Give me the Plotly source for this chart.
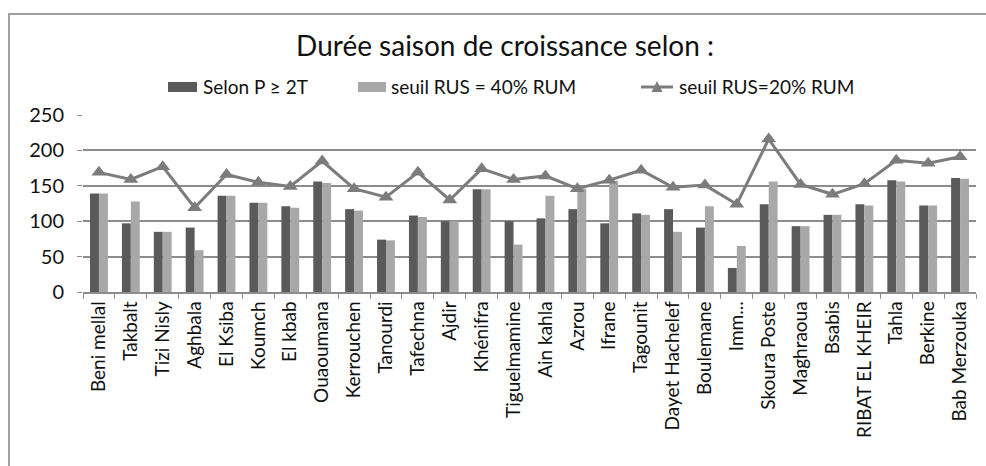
import plotly.graph_objects as go

stations = [
    "Beni mellal", "Takbalt", "Tizi Nisly", "Aghbala", "El Ksiba", "Koumch",
    "El kbab", "Ouaoumana", "Kerrouchen", "Tanourdi", "Tafechna", "Ajdir",
    "Khénifra", "Tiguelmamine", "Ain kahla", "Azrou", "Ifrane", "Tagounit",
    "Dayet Hachelef", "Boulemane", "Imm...", "Skoura Poste", "Maghraoua",
    "Bsabis", "RIBAT EL KHEIR", "Tahla", "Berkine", "Bab Merzouka",
]

selon_p2t = [139, 97, 85, 91, 136, 126, 121, 156, 117, 74, 108, 100, 145, 100,
             104, 117, 97, 111, 117, 91, 34, 124, 93, 109, 124, 158, 122, 161]
rus_40 = [139, 128, 85, 59, 136, 126, 119, 154, 115, 73, 106, 100, 145, 67,
          136, 146, 157, 109, 85, 121, 65, 156, 93, 109, 122, 156, 122, 160]
rus_20 = [169, 159, 177, 119, 166, 155, 149, 185, 146, 134, 169, 130, 174, 159,
          164, 146, 158, 172, 148, 151, 124, 216, 152, 138, 153, 186, 182, 191]

series_names = ["Selon P ≥ 2T", "seuil RUS = 40% RUM", "seuil RUS=20% RUM"]
y_ticks = [0, 50, 100, 150, 200, 250]

FONT = "Lato, Noto Sans, sans-serif"
DARK, LIGHT, LINE = "#5a5a5a", "#a8a8a8", "#7c7c7c"

W, H = 986, 466
ML, MR, MT, MB = 83, 10, 115, 174
PW, PH = W - ML - MR, H - MT - MB


def px(x):
    return (x - ML) / PW


def py(y):
    return (H - MB - y) / PH


fig = go.Figure()
fig.add_trace(go.Bar(x=stations, y=selon_p2t, name=series_names[0],
                     marker=dict(color=DARK, line=dict(width=0))))
fig.add_trace(go.Bar(x=stations, y=rus_40, name=series_names[1],
                     marker=dict(color=LIGHT, line=dict(width=0))))
fig.add_trace(go.Scatter(x=stations, y=rus_20, name=series_names[2],
                         mode="lines+markers", cliponaxis=False,
                         line=dict(color=LINE, width=3),
                         marker=dict(symbol="triangle-up", size=13,
                                     color=LINE)))

fig.update_layout(
    width=W, height=H,
    margin=dict(l=ML, r=MR, t=MT, b=MB),
    paper_bgcolor="white", plot_bgcolor="white",
    barmode="group", bargap=0.44, bargroupgap=0,
    font=dict(family=FONT, color="#111111"),
    title=dict(text="Durée saison de croissance selon :",
               x=px(505), xanchor="center", xref="paper",
               y=1 - 46 / H, yanchor="middle",
               font=dict(family=FONT, size=28, color="#111111")),
    showlegend=False,
)
fig.update_xaxes(
    range=[-0.5, len(stations) - 0.5],
    tickangle=-90, tickfont=dict(family=FONT, size=19, color="#111111"),
    showline=True, linecolor="#8c8c8c", linewidth=1.5,
    ticks="outside", ticklen=5, tickcolor="#8c8c8c",
    tickson="boundaries", showgrid=False,
)
fig.update_yaxes(
    range=[0, 250], tickvals=y_ticks,
    tickfont=dict(family=FONT, size=20, color="#111111"),
    showgrid=True, gridcolor="#8c8c8c", gridwidth=1.5,
    ticks="outside", ticklen=5, tickcolor="#8c8c8c",
    ticklabelstandoff=9,
    showline=False, zeroline=False,
)

# legend row drawn above the plot
leg_y = 87
swatches = [(168, 197, DARK), (358, 386, LIGHT)]
for x0, x1, col in swatches:
    fig.add_shape(type="rect", xref="paper", yref="paper",
                  x0=px(x0), x1=px(x1), y0=py(leg_y + 5), y1=py(leg_y - 5),
                  fillcolor=col, line=dict(width=0))
fig.add_shape(type="line", xref="paper", yref="paper",
              x0=px(641), x1=px(673), y0=py(leg_y), y1=py(leg_y),
              line=dict(color=LINE, width=3))
tri = [(651.5, leg_y + 5), (662.5, leg_y + 5), (657, leg_y - 6)]
tri_path = "M " + " L ".join(f"{px(a):.5f},{py(b):.5f}" for a, b in tri) + " Z"
fig.add_shape(type="path", xref="paper", yref="paper", path=tri_path,
              fillcolor=LINE, line=dict(width=0))
for xt, label in zip([201, 389, 677], series_names):
    fig.add_annotation(xref="paper", yref="paper", x=px(xt), y=py(leg_y),
                       text=label, showarrow=False, xanchor="left",
                       yanchor="middle",
                       font=dict(family=FONT, size=19, color="#111111"))

# outer chart frame
fig.add_shape(type="rect", xref="paper", yref="paper",
              x0=px(9), x1=px(1100), y0=py(600), y1=py(14),
              line=dict(color="#a0a0a0", width=2))

fig.write_html("out.html")
